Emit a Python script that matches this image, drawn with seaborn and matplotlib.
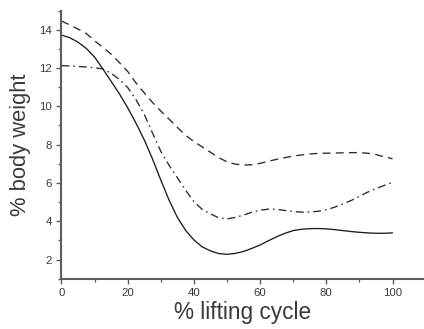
import numpy as np
import pandas as pd
import matplotlib
matplotlib.use("Agg")
import matplotlib.pyplot as plt
from matplotlib.ticker import MultipleLocator
import seaborn as sns

# % of lifting cycle at which each curve is sampled (every 2.5 %)
cycle = [0, 2.5, 5, 7.5, 10, 12.5, 15, 17.5, 20, 22.5, 25, 27.5, 30, 32.5, 35, 37.5,
         40, 42.5, 45, 47.5, 50, 52.5, 55, 57.5, 60, 62.5, 65, 67.5, 70, 72.5, 75,
         77.5, 80, 82.5, 85, 87.5, 90, 92.5, 95, 97.5, 100]

# body-weight percentages for the three lifting conditions
solid_curve = [13.72, 13.58, 13.35, 13.02, 12.57, 11.95, 11.30, 10.65, 9.92, 9.12,
               8.25, 7.25, 6.15, 5.10, 4.20, 3.52, 3.02, 2.66, 2.45, 2.31, 2.27,
               2.32, 2.42, 2.58, 2.76, 2.98, 3.19, 3.37, 3.51, 3.58, 3.61, 3.62,
               3.60, 3.56, 3.51, 3.46, 3.42, 3.39, 3.37, 3.37, 3.39]
dashed_curve = [14.45, 14.25, 14.03, 13.80, 13.42, 13.08, 12.72, 12.28, 11.82, 11.22,
                10.70, 10.20, 9.75, 9.33, 8.90, 8.48, 8.16, 7.88, 7.60, 7.32, 7.10,
                6.98, 6.93, 6.95, 7.02, 7.13, 7.23, 7.32, 7.40, 7.46, 7.51, 7.54,
                7.55, 7.56, 7.57, 7.58, 7.58, 7.55, 7.48, 7.36, 7.26]
dashdot_curve = [12.12, 12.11, 12.08, 12.05, 12.01, 11.95, 11.72, 11.40, 10.98, 10.35,
                 9.58, 8.60, 7.65, 6.92, 6.27, 5.62, 5.02, 4.62, 4.38, 4.18, 4.12,
                 4.20, 4.32, 4.47, 4.57, 4.63, 4.62, 4.56, 4.51, 4.47, 4.48, 4.52,
                 4.60, 4.73, 4.90, 5.08, 5.30, 5.52, 5.70, 5.87, 6.03]

x_ticks = [0, 20, 40, 60, 80, 100]
y_ticks = [2, 4, 6, 8, 10, 12, 14]

sns.set_theme(style="ticks")
plt.rcParams["font.family"] = ["Liberation Sans", "DejaVu Sans"]

fig = plt.figure(figsize=(4.24, 3.29), dpi=100)
ax = fig.add_axes([0.145, 0.153, 0.855, 0.815])

df = pd.DataFrame({"cycle": cycle, "solid": solid_curve,
                   "dashed": dashed_curve, "dashdot": dashdot_curve})

sns.lineplot(data=df, x="cycle", y="solid", ax=ax, color="#1c1c1c", linewidth=0.95)
sns.lineplot(data=df, x="cycle", y="dashed", ax=ax, color="#2a2a2a", linewidth=0.95)
ax.lines[-1].set_dashes((6, 4))
sns.lineplot(data=df, x="cycle", y="dashdot", ax=ax, color="#2a2a2a", linewidth=0.95)
ax.lines[-1].set_dashes((6, 3, 1.2, 3))

ax.set_xlim(0, 109.5)
ax.set_ylim(1, 15)
ax.set_xticks(x_ticks)
ax.set_yticks(y_ticks)
ax.xaxis.set_minor_locator(MultipleLocator(10))
ax.yaxis.set_minor_locator(MultipleLocator(1))

spine_color = "#5c5c5c"
for side in ("top", "right"):
    ax.spines[side].set_visible(False)
for side in ("left", "bottom"):
    ax.spines[side].set_color(spine_color)
    ax.spines[side].set_linewidth(1.5)

ax.tick_params(which="major", direction="out", length=3.5, width=1.0,
               color=spine_color, labelsize=8.2, labelcolor="#3a3a3a", pad=3.5)
ax.tick_params(which="minor", direction="out", length=2.2, width=0.9,
               color=spine_color)

ax.set_xlabel("% lifting cycle", fontsize=16.3, color="#3a3a3a", labelpad=2)
ax.set_ylabel("% body weight", fontsize=15.8, color="#3a3a3a", labelpad=6)
ax.grid(False)

fig.savefig("out.png", dpi=100)
